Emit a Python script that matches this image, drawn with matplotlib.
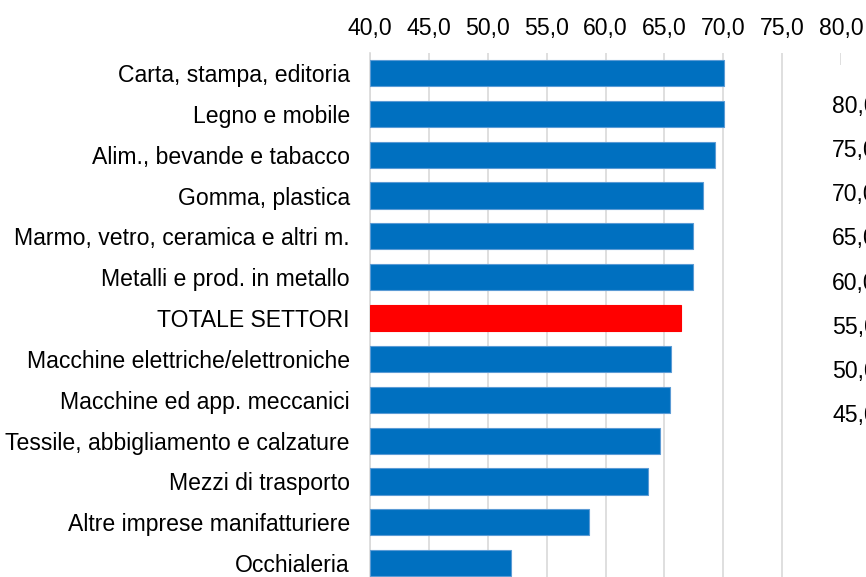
import matplotlib.pyplot as plt
from matplotlib.patches import Rectangle

settori = ["Carta, stampa, editoria", "Legno e mobile", "Alim., bevande e tabacco",
           "Gomma, plastica", "Marmo, vetro, ceramica e altri m.",
           "Metalli e prod. in metallo", "TOTALE SETTORI",
           "Macchine elettriche/elettroniche", "Macchine ed app. meccanici",
           "Tessile, abbigliamento e calzature", "Mezzi di trasporto",
           "Altre imprese manifatturiere", "Occhialeria"]
valori = [70.1, 70.1, 69.3, 68.3, 67.4, 67.4, 66.4, 65.6, 65.5, 64.6, 63.6, 58.6, 52.0]
x_ticks = [40, 45, 50, 55, 60, 65, 70, 75, 80]
y2_ticks = [45, 50, 55, 60, 65, 70, 75, 80]

W, H = 866, 577
plt.rcParams['font.family'] = ['Liberation Sans', 'DejaVu Sans']
fig = plt.figure(figsize=(W / 100, H / 100), dpi=100)

def fmt(v):
    return f"{v:.1f}".replace(".", ",")

# main plot area (bottom is cut off in the original)
ax = fig.add_axes([370 / W, 1 - 583.6 / H, 471 / W, 531 / H])
colori = ["#FF0000" if s == "TOTALE SETTORI" else "#0070C0" for s in settori]
pos = list(range(len(settori)))
ax.barh(pos, [v - 40 for v in valori], left=40, height=0.64, color=colori,
        edgecolor=["#FF0000" if c == "#FF0000" else "#5b9bd5" for c in colori],
        linewidth=0.8, zorder=3)
ax.set_xlim(40, 80)
ax.set_ylim(len(settori) - 0.5, -0.5)
ax.set_yticks(pos)
ax.set_yticklabels(settori, fontsize=16.6)
ax.set_xticks(x_ticks)
ax.set_xticklabels([fmt(v) for v in x_ticks], fontsize=16.6)
ax.xaxis.tick_top()
ax.tick_params(axis="x", length=0, pad=9)
ax.tick_params(axis="y", length=0, pad=14.5)
ax.grid(axis="x", color="#d9d9d9", linewidth=1.2, zorder=0)
for s in ["top", "right", "bottom"]:
    ax.spines[s].set_visible(False)
ax.spines["left"].set_color("#d9d9d9")
ax.spines["left"].set_linewidth(1.2)

# white block hiding the last gridline, as in the source chart
fig.patches.append(Rectangle((800 / W, 0), 66 / W, 1 - 65 / H, transform=fig.transFigure,
                             facecolor="white", edgecolor="none", zorder=1))

# stray secondary axis labels on the right edge
ax2 = fig.add_axes([820 / W, 1 - 413 / H, 10 / W, 309 / H], zorder=2)
ax2.set_ylim(45, 80)
ax2.set_yticks(y2_ticks)
ax2.set_yticklabels([fmt(v) for v in y2_ticks], fontsize=16.6)
ax2.yaxis.tick_right()
ax2.tick_params(axis="y", length=0, pad=1.5)
ax2.set_xticks([])
ax2.patch.set_visible(False)
for s in ax2.spines.values():
    s.set_visible(False)

fig.savefig("out.png", dpi=100)
